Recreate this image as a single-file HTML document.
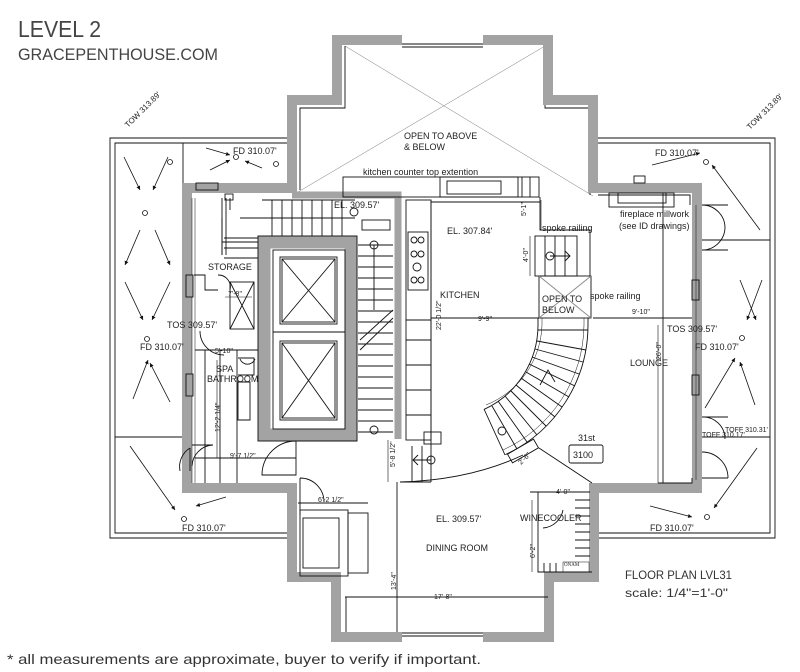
<!DOCTYPE html>
<html><head><meta charset="utf-8"><style>
html,body{margin:0;padding:0;background:#fff;}
svg{display:block;}
text{font-family:"Liberation Sans",sans-serif;fill:#222;}
.s{font-size:9px;}
.d{font-size:7px;}
</style></head><body>
<svg width="800" height="672" viewBox="0 0 800 672" xmlns="http://www.w3.org/2000/svg">
<defs><marker id="ah" viewBox="0 0 6 6" refX="6" refY="3" markerWidth="5" markerHeight="5" orient="auto"><path d="M0,0 L6,3 L0,6 z" fill="#111"/></marker></defs>
<rect width="800" height="672" fill="#fff"/>
<text x="18" y="37" font-size="23" style="fill:#444" textLength="83" lengthAdjust="spacingAndGlyphs">LEVEL 2</text>
<text x="18" y="60" font-size="17" style="fill:#444" textLength="200" lengthAdjust="spacingAndGlyphs">GRACEPENTHOUSE.COM</text>
<text x="7" y="664" font-size="14" style="fill:#333" textLength="474" lengthAdjust="spacingAndGlyphs">* all measurements are approximate, buyer to verify if important.</text>

<g fill="none" stroke="#111" stroke-width="0.9">
<polyline points="287,138 110,138 110,538 287,538"/>
<polyline points="287,143 115,143 115,533 287,533"/>
<polyline points="598,138 775,138 775,538 598,538"/>
<polyline points="598,143 770,143 770,533 598,533"/>
<line x1="183" y1="143" x2="183" y2="183"/>
<line x1="115" y1="437" x2="183" y2="437"/>
<line x1="702" y1="240" x2="770" y2="240"/>
<line x1="702" y1="437" x2="770" y2="437"/>
<line x1="545" y1="46" x2="298" y2="192" stroke-width="0.5" stroke="#777"/>
<line x1="345" y1="46" x2="593" y2="196" stroke-width="0.5" stroke="#777"/>
<line x1="402" y1="44" x2="483" y2="44"/><line x1="402" y1="47" x2="483" y2="47"/>
<line x1="402" y1="633" x2="483" y2="633"/><line x1="402" y1="636" x2="483" y2="636"/>
<polyline points="345,46 345,108 300,108 300,190"/>
<polyline points="545,46 545,108 590,108 590,195"/>
</g>

<path d="M402,40 L337,40 L337,100 L292,100 L292,188 L187,188 L187,488 L292,488 L292,577 L336,577 L336,637 L402,637 M483,637 L549,637 L549,577 L594,577 L594,488 L697,488 L697,188 L593,188 L593,100 L548,100 L548,40 L483,40" fill="none" stroke="#a3a3a3" stroke-width="10"/>
<polyline points="292,195 398,195 398,439" fill="none" stroke="#a3a3a3" stroke-width="7"/>
<rect x="264" y="242" width="87" height="193" fill="none" stroke="#a3a3a3" stroke-width="13"/>
<g fill="none" stroke="#111" stroke-width="0.9">
<rect x="258" y="236" width="99" height="205"/>
<rect x="273" y="250" width="72" height="179"/>
<rect x="280" y="257" width="57" height="67"/><rect x="282" y="259" width="53" height="63"/>
<line x1="282" y1="259" x2="335" y2="322"/><line x1="335" y1="259" x2="282" y2="322"/>
<rect x="280" y="341" width="57" height="79"/><rect x="282" y="343" width="53" height="75"/>
<line x1="282" y1="343" x2="335" y2="418"/><line x1="335" y1="343" x2="282" y2="418"/>
<line x1="273" y1="332" x2="345" y2="332"/>
<line x1="262" y1="200" x2="355" y2="200"/>
<line x1="240" y1="218" x2="355" y2="218"/>
<line x1="222" y1="242" x2="258" y2="242"/>
<line x1="222" y1="218" x2="222" y2="255"/>
<path d="M272,200 V236 M282,200 V236 M292,200 V236 M302,200 V236 M312,200 V236 M322,200 V236 M332,200 V236 M342,200 V236"/>
<path d="M224,238 H258 M224,248 H258 M224,258 H258"/>
<path d="M358,245 H393 M358,256 H393 M358,267 H393 M358,278 H393 M358,289 H393 M358,300 H393 M358,311 H393 M358,322 H393 M358,333 H393 M358,344 H393 M358,355 H393 M358,366 H393 M358,377 H393 M358,388 H393 M358,399 H393 M358,410 H393 M358,421 H393 M358,432 H393"/>
<line x1="374" y1="245" x2="374" y2="310"/>
<line x1="360" y1="340" x2="393" y2="310"/>
<line x1="360" y1="350" x2="393" y2="318"/>
<rect x="362" y="220" width="28" height="10"/>
<circle cx="374" cy="245" r="4"/><circle cx="354" cy="212" r="4"/><circle cx="374" cy="430" r="4"/>
<rect x="406" y="200" width="25" height="240"/>
<rect x="408" y="232" width="20" height="58"/>
<circle cx="414" cy="240" r="3"/><circle cx="421" cy="240" r="3"/><circle cx="414" cy="254" r="3"/><circle cx="421" cy="254" r="3"/><circle cx="417" cy="267" r="4"/><circle cx="414" cy="280" r="3"/><circle cx="421" cy="280" r="3"/>
<path d="M406,320 H431 M406,340 H431 M406,365 H431 M406,390 H431 M406,415 H431"/>
<rect x="424" y="432" width="17" height="12"/>
<line x1="431" y1="200" x2="431" y2="482"/>
<line x1="431" y1="202" x2="540" y2="202"/>
<rect x="343" y="177" width="196" height="20"/>
<rect x="440" y="177" width="78" height="20"/>
<rect x="447" y="181" width="54" height="13"/>
<line x1="522" y1="177" x2="522" y2="197"/><line x1="530" y1="177" x2="530" y2="197"/>
<polyline points="540,197 540,230 590,230 590,276"/>
<rect x="535" y="236" width="42" height="40"/>
<path d="M545,236 V276 M555,236 V276 M565,236 V276"/>
<circle cx="550" cy="256" r="4"/><path d="M550,256 H570 M565,251 L570,256 L565,261"/>
<rect x="539" y="276" width="52" height="42"/>
<line x1="539" y1="276" x2="591" y2="318" stroke="#888"/><line x1="591" y1="276" x2="539" y2="318" stroke="#888"/>
<path d="M538,318 L538,325 A93 93 0 0 1 484.3,409.3"/>
<path d="M588,318 L588,325 A143 143 0 0 1 505.5,454.6"/>
<path d="M542,318 L542,325 A89 89 0 0 1 486,405" stroke-width="0.5"/>
<path d="M584,318 L584,325 A139 139 0 0 1 503,450" stroke-width="0.5"/>
<line x1="484" y1="409" x2="505" y2="455"/>
<path d="M538,330 H588 M537,341 L586,350 M535,349 L583,362 M532,357 L579,374 M529,364 L575,386 M526,372 L569,397 M521,378 L562,407 M516,385 L555,417 M511,391 L546,426 M505,396 L537,435 M498,401 L527,442 M492,406 L517,449"/>
<path d="M540,385 L548,370 L555,382"/>
<circle cx="502" cy="431" r="4"/>
<rect x="508" y="446" width="30" height="10" transform="rotate(-30 523 451)"/>
<path d="M523,455 Q470,480 400,482"/>
<line x1="539" y1="448" x2="592" y2="483"/>
<path d="M412,446 V482 M422,446 V482 M400,482 H431"/>
<circle cx="431" cy="460" r="4"/><path d="M431,460 H413 M418,455 L413,460 L418,465"/>
<rect x="609" y="193" width="65" height="14"/>
<rect x="618" y="193" width="48" height="10"/>
<rect x="634" y="176" width="11" height="7"/>
<polyline points="598,195 690,195 690,205"/>
<line x1="663" y1="193" x2="663" y2="483"/>
<polyline points="658,483 692,483 692,478"/>
<line x1="593" y1="318" x2="692" y2="318"/>
<line x1="431" y1="318" x2="539" y2="318"/>
<path d="M702,205 H728 M702,250 H728 M702,205 A23 23 0 0 1 725,228 M702,250 A23 23 0 0 0 725,227"/>
<path d="M702,417 H728 M702,478 H728 M702,417 A22 22 0 0 1 725,439 M728,478 A26 26 0 0 0 702,452"/>
<rect x="692" y="280" width="7" height="20" fill="#a3a3a3"/>
<rect x="692" y="375" width="7" height="20" fill="#a3a3a3"/>
<line x1="696" y1="205" x2="696" y2="480" stroke-width="0.5"/>
<line x1="192" y1="198" x2="192" y2="483" stroke-width="0.5"/>
<line x1="195" y1="198" x2="195" y2="483" stroke-width="0.5"/>
<rect x="186" y="275" width="7" height="22" fill="#a3a3a3"/>
<rect x="186" y="374" width="7" height="22" fill="#a3a3a3"/>
<rect x="196" y="183" width="22" height="7"/>
<path d="M222,198 V255 M226,198 V255 M230,198 V210"/>
<rect x="225" y="194" width="8" height="6"/>
<path d="M194,275 H205 V290 H218 M218,275 A12 12 0 0 1 230,290"/>
<rect x="230" y="282" width="24" height="47"/>
<line x1="230" y1="282" x2="254" y2="329"/><line x1="254" y1="282" x2="230" y2="329"/>
<path d="M195,350 H258 M205,350 V483 M220,350 V483 M238,382 H250 V420 H238 Z M238,358 H254 V375 H238"/>
<path d="M200,331 A24 24 0 0 0 224,355"/>
<path d="M240,359 A8 8 0 0 0 255,359"/>
<path d="M192,466 A22 22 0 0 1 213,445 H192 M180,471 A22 22 0 0 1 190,448 M190,448 V471"/>
<line x1="195" y1="458" x2="296" y2="458"/>
<path d="M296,441 A34 34 0 0 0 262,475 H296 V441"/>
<path d="M300,478 V515 M300,478 A24 24 0 0 1 324,502"/>
<line x1="298" y1="503" x2="368" y2="503"/>
<rect x="300" y="510" width="48" height="66"/><rect x="303" y="518" width="36" height="50"/>
<rect x="348" y="513" width="20" height="60"/>
<line x1="237" y1="350" x2="237" y2="483"/>
<line x1="296" y1="441" x2="357" y2="441"/>
<line x1="397" y1="482" x2="397" y2="632"/>
<line x1="345" y1="597" x2="548" y2="597"/>
<line x1="346" y1="597" x2="346" y2="632"/>
<polyline points="530,492 590,492"/>
<polyline points="538,492 538,572 592,572"/>
<path d="M575,500 H590 M575,508 H590 M575,516 H590 M575,524 H590 M575,532 H590 M575,540 H590 M575,548 H590 M575,556 H590"/>
<path d="M544,563 V572 M550,563 V572 M556,563 V572"/>
<path d="M543,528 A22 22 0 0 0 563,510"/>
<rect x="563" y="562" width="26" height="10" stroke-width="0.5"/>
<rect x="569" y="445" width="34" height="18" rx="2"/>
<line x1="541" y1="200" x2="541" y2="230" stroke-width="0.6"/>
<line x1="530" y1="236" x2="530" y2="276" stroke-width="0.6"/>
<line x1="225" y1="297" x2="252" y2="297" stroke-width="0.6"/>
<line x1="658" y1="325" x2="658" y2="483" stroke-width="0.6"/>
<line x1="217" y1="360" x2="217" y2="458" stroke-width="0.6"/>
<line x1="388" y1="440" x2="388" y2="482" stroke-width="0.6"/>
<line x1="532" y1="500" x2="532" y2="572" stroke-width="0.6"/>
</g>
<g fill="none" stroke="#111" stroke-width="0.8">
<circle cx="236" cy="157" r="2.5"/><circle cx="170" cy="162" r="2.5"/><circle cx="276" cy="164" r="2.5"/>
<circle cx="145" cy="213" r="2.5"/><circle cx="147" cy="339" r="2.5"/><circle cx="184" cy="519" r="2.5"/>
<circle cx="706" cy="162" r="2.5"/><circle cx="742" cy="338" r="2.5"/><circle cx="707" cy="517" r="2.5"/>
</g>
<g fill="none" stroke="#111" stroke-width="0.8" marker-end="url(#ah)">
<path d="M124,157 L140,190"/><path d="M168,157 L153,190"/><path d="M140,230 L125,265"/><path d="M155,230 L170,265"/>
<path d="M125,282 L143,320"/><path d="M170,282 L152,320"/><path d="M133,399 L148,360"/><path d="M170,402 L150,363"/>
<path d="M130,446 L175,510"/><path d="M226,497 L196,506"/><path d="M206,148 L230,155"/><path d="M210,170 L230,160"/><path d="M262,168 L245,161"/>
<path d="M652,165 L700,153"/><path d="M760,230 L712,165"/><path d="M740,280 L756,320"/><path d="M762,280 L747,320"/>
<path d="M705,408 L735,358"/><path d="M755,405 L740,362"/><path d="M757,448 L714,508"/><path d="M650,506 L692,517"/>
</g>

<g>
<text x="404" y="139" class="s">OPEN TO ABOVE</text>
<text x="404" y="150" class="s">&amp; BELOW</text>
<text x="363" y="175" class="s">kitchen counter top  extention</text>
<text x="233" y="154" class="s">FD 310.07'</text>
<text x="334" y="208" class="s">EL. 309.57'</text>
<text x="447" y="234" class="s">EL. 307.84'</text>
<text x="440" y="298" class="s">KITCHEN</text>
<text x="542" y="302" class="s">OPEN TO</text>
<text x="542" y="313" class="s">BELOW</text>
<text x="542" y="231" class="s">spoke railing</text>
<text x="590" y="299" class="s">spoke railing</text>
<text x="620" y="217" class="s">fireplace millwork</text>
<text x="619" y="229" class="s">(see ID drawings)</text>
<text x="655" y="156" class="s">FD 310.07'</text>
<text x="208" y="270" class="s">STORAGE</text>
<text x="167" y="328" class="s">TOS 309.57'</text>
<text x="667" y="332" class="s">TOS 309.57'</text>
<text x="140" y="350" class="s">FD 310.07'</text>
<text x="695" y="350" class="s">FD 310.07'</text>
<text x="216" y="372" class="s">SPA</text>
<text x="207" y="382" class="s">BATHROOM</text>
<text x="630" y="366" class="s">LOUNGE</text>
<text x="578" y="441" class="s">31st</text>
<text x="573" y="458" class="s">3100</text>
<text x="182" y="531" class="s">FD 310.07'</text>
<text x="650" y="531" class="s">FD 310.07'</text>
<text x="436" y="522" class="s">EL. 309.57'</text>
<text x="426" y="551" class="s">DINING ROOM</text>
<text x="520" y="521" class="s">WINECOOLER</text>
</g>
<g>
<text x="725" y="432" class="d">TOFF 310.31'</text>
<text x="702" y="437" class="d">TOFF 310.17'</text>
<text x="478" y="321" class="d">9'-9"</text>
<text x="632" y="314" class="d">9'-10"</text>
<text x="318" y="502" class="d">6'-2 1/2"</text>
<text x="230" y="458" class="d">9'-7 1/2"</text>
<text x="215" y="353" class="d">5'-10"</text>
<text x="228" y="296" class="d">7'-8"</text>
<text x="556" y="494" class="d">4'-0"</text>
<text x="434" y="599" class="d">17'-8"</text>
<text x="564" y="566" font-size="5" style="font-family:'Liberation Serif',serif">ONAM</text>
<text transform="translate(441,330) rotate(-90)" class="d">22'-0 1/2"</text>
<text transform="translate(661,360) rotate(-90)" class="d">26'-0"</text>
<text transform="translate(220,432) rotate(-90)" class="d">12'-2 1/4"</text>
<text transform="translate(395,467) rotate(-90)" class="d">5'-8 1/2"</text>
<text transform="translate(396,590) rotate(-90)" class="d">13'-4"</text>
<text transform="translate(535,558) rotate(-90)" class="d">6'-2"</text>
<text transform="translate(528,262) rotate(-90)" class="d">4'-0"</text>
<text transform="translate(526,216) rotate(-90)" class="d">5'-1"</text>
<text transform="translate(521,465) rotate(-45)" class="d">2'-6"</text>
</g>
<text transform="translate(128,128) rotate(-45)" font-size="8">TOW 313.89'</text>
<text transform="translate(750,130) rotate(-45)" font-size="8">TOW 313.89'</text>
<text x="625" y="579" font-size="12" style="fill:#333" textLength="107" lengthAdjust="spacingAndGlyphs">FLOOR PLAN LVL31</text>
<text x="625" y="597" font-size="12" style="fill:#333" textLength="103" lengthAdjust="spacingAndGlyphs">scale: 1/4"=1'-0"</text>
</svg>
</body></html>
